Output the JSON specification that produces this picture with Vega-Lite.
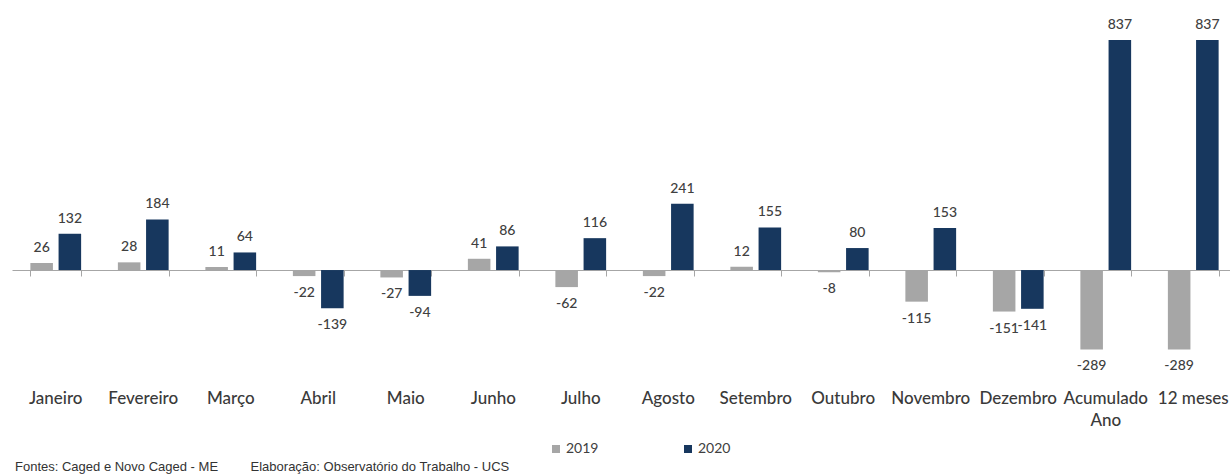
{
  "$schema": "https://vega.github.io/schema/vega-lite/v6.json",
  "width": 1218,
  "height": 370,
  "autosize": {"type": "none"},
  "padding": {"left": 12, "top": 10, "right": 0, "bottom": 96},
  "background": "white",
  "config": {"view": {"stroke": null}, "font": "Lato"},
  "title": {
    "text": "Fontes: Caged e Novo Caged - ME\u00a0\u00a0\u00a0\u00a0\u00a0\u00a0\u00a0\u00a0\u00a0Elaboração: Observatório do Trabalho - UCS",
    "orient": "bottom",
    "anchor": "start",
    "frame": "group",
    "offset": 5,
    "dx": 3,
    "font": "Liberation Sans",
    "fontSize": 13,
    "fontWeight": "normal",
    "color": "#333333"
  },
  "data": {
    "values": [
      {"mes": "Janeiro", "ano": "2019", "valor": 26},
      {"mes": "Janeiro", "ano": "2020", "valor": 132},
      {"mes": "Fevereiro", "ano": "2019", "valor": 28},
      {"mes": "Fevereiro", "ano": "2020", "valor": 184},
      {"mes": "Março", "ano": "2019", "valor": 11},
      {"mes": "Março", "ano": "2020", "valor": 64},
      {"mes": "Abril", "ano": "2019", "valor": -22},
      {"mes": "Abril", "ano": "2020", "valor": -139},
      {"mes": "Maio", "ano": "2019", "valor": -27},
      {"mes": "Maio", "ano": "2020", "valor": -94},
      {"mes": "Junho", "ano": "2019", "valor": 41},
      {"mes": "Junho", "ano": "2020", "valor": 86},
      {"mes": "Julho", "ano": "2019", "valor": -62},
      {"mes": "Julho", "ano": "2020", "valor": 116},
      {"mes": "Agosto", "ano": "2019", "valor": -22},
      {"mes": "Agosto", "ano": "2020", "valor": 241},
      {"mes": "Setembro", "ano": "2019", "valor": 12},
      {"mes": "Setembro", "ano": "2020", "valor": 155},
      {"mes": "Outubro", "ano": "2019", "valor": -8},
      {"mes": "Outubro", "ano": "2020", "valor": 80},
      {"mes": "Novembro", "ano": "2019", "valor": -115},
      {"mes": "Novembro", "ano": "2020", "valor": 153},
      {"mes": "Dezembro", "ano": "2019", "valor": -151},
      {"mes": "Dezembro", "ano": "2020", "valor": -141},
      {"mes": "Acumulado Ano", "ano": "2019", "valor": -289},
      {"mes": "Acumulado Ano", "ano": "2020", "valor": 837},
      {"mes": "12 meses", "ano": "2019", "valor": -289},
      {"mes": "12 meses", "ano": "2020", "valor": 837}
    ]
  },
  "encoding": {
    "x": {
      "field": "mes",
      "type": "nominal",
      "sort": ["Janeiro", "Fevereiro", "Março", "Abril", "Maio", "Junho", "Julho", "Agosto", "Setembro", "Outubro", "Novembro", "Dezembro", "Acumulado Ano", "12 meses"],
      "scale": {"range": [0, 1225], "paddingInner": 0.42, "paddingOuter": 0.21}
    },
    "xOffset": {
      "field": "ano",
      "sort": ["2019", "2020"],
      "scale": {"paddingInner": 0.2, "paddingOuter": 0}
    },
    "y": {
      "field": "valor",
      "type": "quantitative",
      "scale": {"domain": [-400, 946], "nice": false},
      "axis": null
    }
  },
  "resolve": {"axis": {"x": "independent"}},
  "layer": [
    {
      "mark": {"type": "bar"},
      "encoding": {
        "x": {
          "field": "mes",
          "type": "nominal",
          "sort": ["Janeiro", "Fevereiro", "Março", "Abril", "Maio", "Junho", "Julho", "Agosto", "Setembro", "Outubro", "Novembro", "Dezembro", "Acumulado Ano", "12 meses"],
          "axis": {
            "orient": "bottom",
            "offset": -110,
            "labels": false,
            "title": null,
            "grid": false,
            "domain": true,
            "domainColor": "#A6A6A6",
            "domainWidth": 1,
            "ticks": true,
            "tickColor": "#A6A6A6",
            "tickSize": 6,
            "tickBand": "extent"
          }
        },
        "color": {
          "field": "ano",
          "type": "nominal",
          "scale": {"domain": ["2019", "2020"], "range": ["#A6A6A6", "#17375E"]},
          "legend": {
            "title": null,
            "orient": "none",
            "direction": "horizontal",
            "legendX": 537,
            "legendY": 432,
            "symbolType": "square",
            "symbolSize": 64,
            "symbolStrokeWidth": 0,
            "labelFont": "Lato",
            "labelFontSize": 14,
            "labelColor": "#404040",
            "labelOffset": 3,
            "columnPadding": 82,
            "padding": 0
          }
        }
      }
    },
    {
      "transform": [{"filter": "datum.valor >= 0"}],
      "mark": {"type": "text", "baseline": "bottom", "dy": -8, "fontSize": 14, "fontWeight": 500, "color": "#404040", "font": "Lato"},
      "encoding": {
        "x": {
          "field": "mes",
          "type": "nominal",
          "sort": ["Janeiro", "Fevereiro", "Março", "Abril", "Maio", "Junho", "Julho", "Agosto", "Setembro", "Outubro", "Novembro", "Dezembro", "Acumulado Ano", "12 meses"],
          "axis": {
            "orient": "bottom",
            "title": null,
            "grid": false,
            "domain": false,
            "ticks": false,
            "labelAngle": 0,
            "labelPadding": 10,
            "labelFont": "Lato",
            "labelFontSize": 17,
            "labelFontWeight": 500,
            "labelColor": "#3A3A3A",
            "labelLineHeight": 22,
            "labelBaseline": "top",
            "labelOverlap": false,
            "labelExpr": "datum.value == 'Acumulado Ano' ? ['Acumulado', 'Ano'] : datum.label"
          }
        },
        "text": {"field": "valor", "type": "nominal"}
      }
    },
    {
      "transform": [{"filter": "datum.valor < 0"}],
      "mark": {"type": "text", "baseline": "top", "dy": 10, "fontSize": 14, "fontWeight": 500, "color": "#404040", "font": "Lato"},
      "encoding": {
        "x": {
          "field": "mes",
          "type": "nominal",
          "sort": ["Janeiro", "Fevereiro", "Março", "Abril", "Maio", "Junho", "Julho", "Agosto", "Setembro", "Outubro", "Novembro", "Dezembro", "Acumulado Ano", "12 meses"],
          "axis": null
        },
        "text": {"field": "valor", "type": "nominal"}
      }
    }
  ]
}
